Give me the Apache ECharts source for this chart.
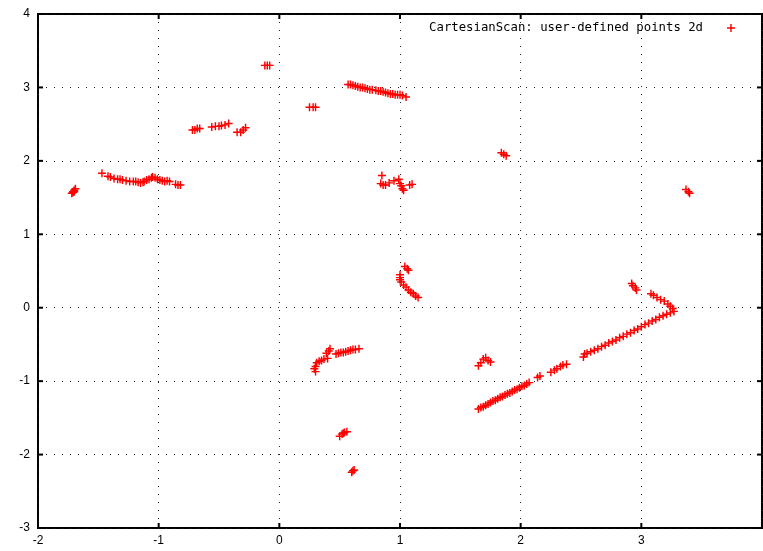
<!DOCTYPE html>
<html><head><meta charset="utf-8">
<script src="https://cdn.jsdelivr.net/npm/echarts@6/dist/echarts.min.js"></script>
<style>html,body{margin:0;padding:0;background:#fff}#c{width:763px;height:551px}</style>
</head><body><div id="c"></div>
<script>
const seriesName = 'CartesianScan: user-defined points 2d';
const xTicks = [-2, -1, 0, 1, 2, 3, 4];
const yTicks = [-3, -2, -1, 0, 1, 2, 3, 4];

const clusterA = [[-1.72,1.56],[-1.71,1.58],[-1.70,1.60],[-1.69,1.62],[-1.71,1.57],[-1.70,1.58]];
const clusterB = [[-1.47,1.83],[-1.42,1.79],[-1.40,1.78],[-1.37,1.76],[-1.34,1.75],[-1.32,1.75],[-1.30,1.74],[-1.27,1.73],[-1.24,1.72],[-1.21,1.72],[-1.19,1.72],[-1.17,1.71],[-1.15,1.70],[-1.13,1.71],[-1.12,1.72],[-1.10,1.74],[-1.08,1.75],[-1.06,1.77],[-1.05,1.78],[-1.03,1.77],[-1.01,1.75],[-0.99,1.74],[-0.97,1.73],[-0.95,1.72],[-0.93,1.73],[-0.91,1.72],[-0.86,1.68],[-0.84,1.67],[-0.82,1.67]];
const clusterC = [[-0.72,2.42],[-0.70,2.42],[-0.68,2.44],[-0.66,2.44]];
const clusterD = [[-0.56,2.46],[-0.53,2.47],[-0.50,2.47],[-0.48,2.48],[-0.45,2.49],[-0.42,2.51]];
const clusterE = [[-0.35,2.39],[-0.32,2.39],[-0.30,2.42],[-0.28,2.45]];
const clusterF = [[-0.12,3.30],[-0.10,3.30],[-0.08,3.30]];
const clusterG = [[0.25,2.73],[0.28,2.73],[0.30,2.73]];
const clusterH = [[0.57,3.04],[0.59,3.04],[0.61,3.03],[0.63,3.02],[0.65,3.01],[0.67,3.00],[0.69,3.00],[0.71,2.99],[0.73,2.98],[0.75,2.97],[0.77,2.97],[0.80,2.96],[0.82,2.95],[0.84,2.95],[0.86,2.94],[0.88,2.93],[0.90,2.92],[0.92,2.91],[0.94,2.91],[0.96,2.90],[0.98,2.90],[1.00,2.90],[1.02,2.89],[1.05,2.87]];
const clusterI = [[0.85,1.80],[0.84,1.69],[0.86,1.67],[0.88,1.67],[0.91,1.70],[0.95,1.73],[0.99,1.75],[1.00,1.69],[1.01,1.66],[1.02,1.62],[1.03,1.60],[1.08,1.67],[1.10,1.68]];
const clusterJ = [[1.04,0.56],[1.06,0.53],[1.07,0.51],[1.00,0.45],[1.00,0.41],[1.00,0.38],[1.01,0.35],[1.03,0.31],[1.05,0.28],[1.07,0.24],[1.09,0.21],[1.11,0.19],[1.13,0.16],[1.15,0.14]];
const clusterK = [[0.30,-0.87],[0.29,-0.83],[0.30,-0.80],[0.31,-0.75],[0.33,-0.73],[0.35,-0.72],[0.37,-0.70],[0.40,-0.69],[0.39,-0.62],[0.41,-0.59],[0.42,-0.56],[0.47,-0.63],[0.49,-0.62],[0.51,-0.61],[0.53,-0.61],[0.55,-0.60],[0.57,-0.59],[0.59,-0.58],[0.61,-0.57],[0.63,-0.57],[0.66,-0.56]];
const clusterL = [[0.50,-1.75],[0.52,-1.72],[0.53,-1.71],[0.54,-1.70],[0.56,-1.69]];
const clusterM = [[0.60,-2.24],[0.61,-2.22],[0.62,-2.21]];
const clusterN = [[1.84,2.11],[1.86,2.09],[1.88,2.07]];
const clusterO = [[3.37,1.61],[3.39,1.58],[3.40,1.56]];
const clusterP = [[1.65,-1.38],[1.67,-1.36],[1.69,-1.35],[1.71,-1.33],[1.73,-1.31],[1.75,-1.29],[1.77,-1.27],[1.79,-1.26],[1.81,-1.24],[1.83,-1.22],[1.85,-1.21],[1.87,-1.19],[1.89,-1.17],[1.91,-1.16],[1.93,-1.14],[1.95,-1.12],[1.97,-1.11],[1.99,-1.09],[2.01,-1.07],[2.03,-1.06],[2.05,-1.04],[2.07,-1.02],
  [2.14,-0.95],[2.16,-0.93],[2.25,-0.88],[2.28,-0.85],[2.30,-0.83],[2.33,-0.80],[2.35,-0.78],[2.38,-0.77],
  [2.52,-0.67],[2.53,-0.63],[2.55,-0.62],[2.58,-0.60],[2.61,-0.58],[2.64,-0.56],[2.67,-0.53],[2.70,-0.51],[2.73,-0.48],[2.76,-0.46],[2.79,-0.44],[2.82,-0.41],[2.85,-0.39],[2.88,-0.36],[2.91,-0.34],[2.94,-0.31],[2.97,-0.29],[3.00,-0.26],[3.03,-0.23],[3.06,-0.21],[3.09,-0.18],[3.12,-0.16],[3.15,-0.13],[3.18,-0.11],[3.21,-0.09],[3.24,-0.07],[3.27,-0.05],
  [3.26,-0.01],[3.24,0.02],[3.22,0.05],[3.19,0.09],[3.16,0.11],[3.13,0.14],[3.10,0.17],[3.08,0.19]];
const clusterQ = [[2.92,0.33],[2.93,0.30],[2.95,0.27],[2.96,0.24]];
const clusterR = [[1.65,-0.79],[1.67,-0.75],[1.69,-0.70],[1.71,-0.68],[1.73,-0.72],[1.75,-0.74]];

const points = [].concat(clusterA, clusterB, clusterC, clusterD, clusterE, clusterF, clusterG, clusterH, clusterI, clusterJ, clusterK, clusterL, clusterM, clusterN, clusterO, clusterP, clusterQ, clusterR);

const plus = 'path://M-0.18,-1 L0.18,-1 L0.18,-0.18 L1,-0.18 L1,0.18 L0.18,0.18 L0.18,1 L-0.18,1 L-0.18,0.18 L-1,0.18 L-1,-0.18 L-0.18,-0.18 Z';
const labelFont = {fontFamily: 'Liberation Sans', fontSize: 12, color: '#000'};
const dotted = {color: '#222', width: 1, type: [1, 7]};
const X0 = xTicks[0], X1 = xTicks[xTicks.length - 1];
const Y0 = yTicks[0], Y1 = yTicks[yTicks.length - 1];
const TL = 5;
const tickLine = {stroke: '#000', lineWidth: 2};

const chart = echarts.init(document.getElementById('c'), null, {renderer: 'canvas'});
chart.setOption({
  animation: false,
  backgroundColor: '#fff',
  grid: {left: 38, right: 1, top: 14, bottom: 23, show: true, borderColor: '#000', borderWidth: 2, backgroundColor: 'transparent'},
  legend: {
    data: [{name: seriesName, icon: plus}],
    right: 23, top: 17, align: 'right', itemWidth: 8, itemHeight: 8,
    textStyle: {fontFamily: 'DejaVu Sans Mono', fontSize: 12.3, color: '#000', padding: [0, 19, 0, 0]}
  },
  xAxis: {
    type: 'value', min: X0, max: X1, interval: 1,
    axisLine: {show: false, onZero: false}, axisTick: {show: false},
    axisLabel: Object.assign({margin: 7, showMaxLabel: false}, labelFont),
    splitLine: {show: true, lineStyle: dotted}
  },
  yAxis: {
    type: 'value', min: Y0, max: Y1, interval: 1,
    axisLine: {show: false, onZero: false}, axisTick: {show: false},
    axisLabel: Object.assign({margin: 8}, labelFont),
    splitLine: {show: true, lineStyle: dotted}
  },
  series: [{
    name: 'xticks', type: 'custom', silent: true, clip: false,
    data: xTicks.map(v => [v]),
    encode: {x: 0},
    renderItem: function (params, api) {
      const b = api.coord([api.value(0), Y0]);
      const t = api.coord([api.value(0), Y1]);
      return {type: 'group', children: [
        {type: 'line', shape: {x1: b[0], y1: b[1], x2: b[0], y2: b[1] - TL}, style: tickLine},
        {type: 'line', shape: {x1: t[0], y1: t[1], x2: t[0], y2: t[1] + TL}, style: tickLine}
      ]};
    }
  }, {
    name: 'yticks', type: 'custom', silent: true, clip: false,
    data: yTicks.map(v => [X0, v]),
    encode: {x: 0, y: 1},
    renderItem: function (params, api) {
      const l = api.coord([X0, api.value(1)]);
      const r = api.coord([X1, api.value(1)]);
      return {type: 'group', children: [
        {type: 'line', shape: {x1: l[0], y1: l[1], x2: l[0] + TL, y2: l[1]}, style: tickLine},
        {type: 'line', shape: {x1: r[0], y1: r[1], x2: r[0] - TL, y2: r[1]}, style: tickLine}
      ]};
    }
  }, {
    name: seriesName, type: 'scatter',
    symbol: plus, symbolSize: 8,
    itemStyle: {color: '#ff0000', opacity: 1},
    data: points
  }]
});
</script></body></html>
